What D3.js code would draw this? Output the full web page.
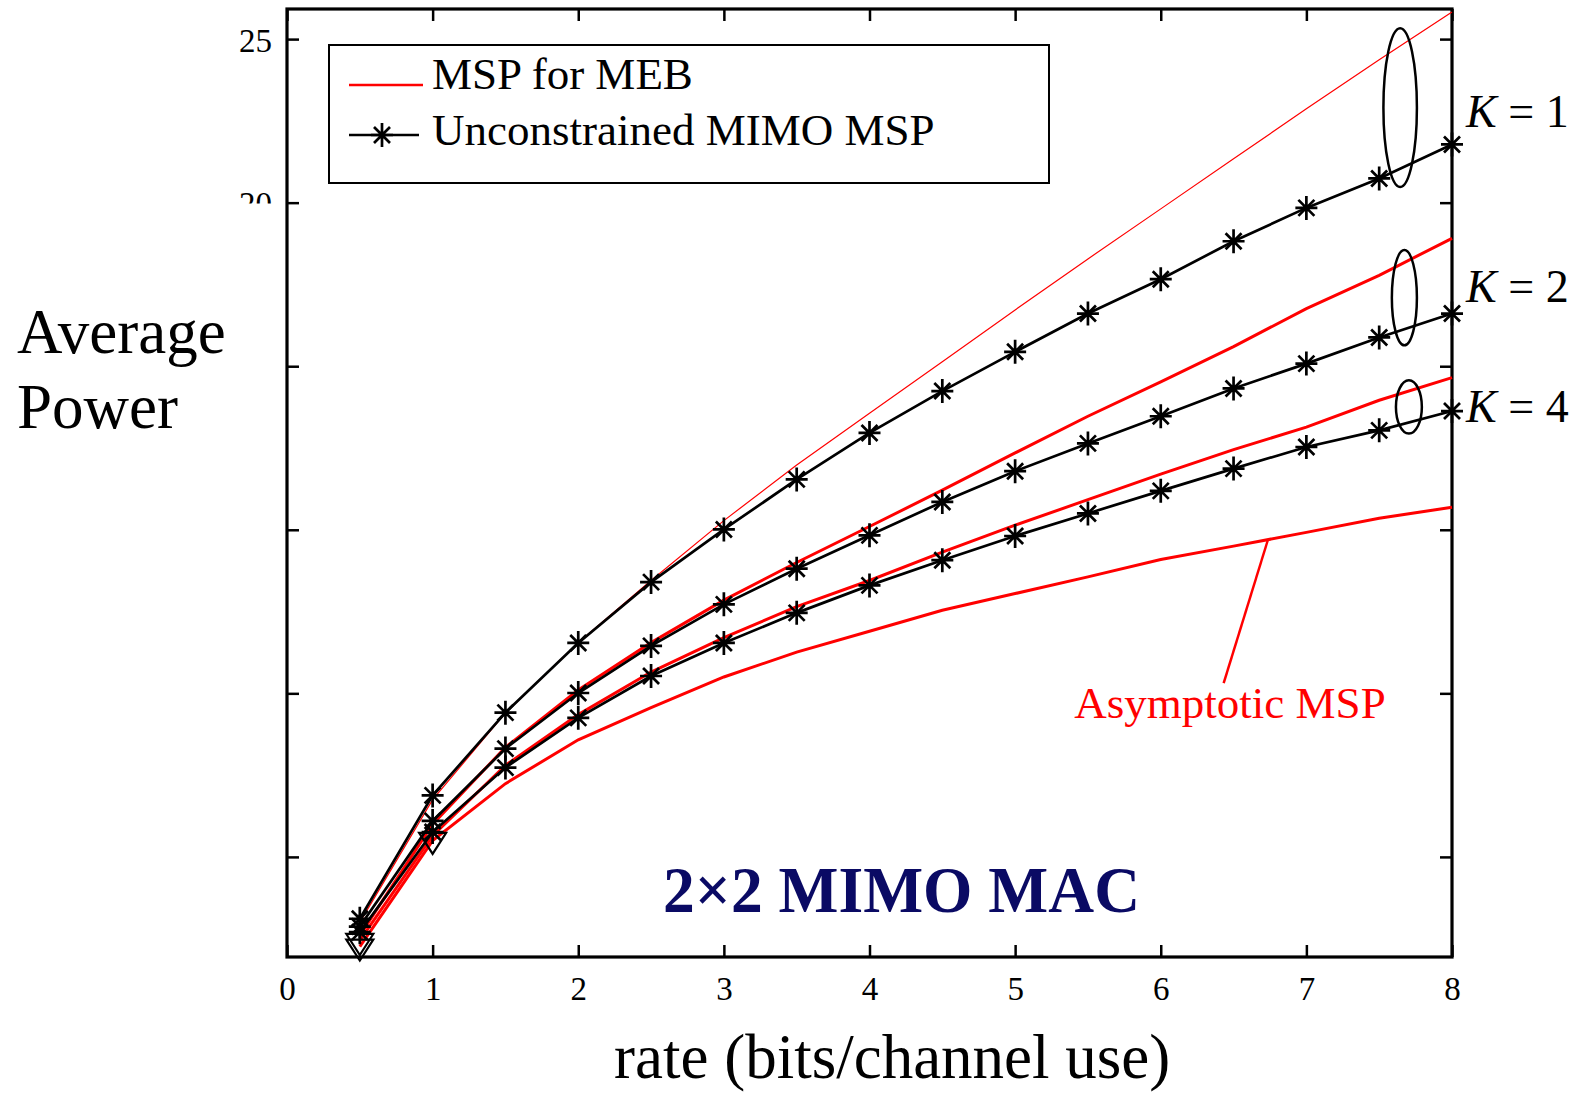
<!DOCTYPE html>
<html><head><meta charset="utf-8">
<script src="https://cdn.jsdelivr.net/npm/d3@7"></script>
<style>
html,body{margin:0;padding:0;background:#fff;}
svg{display:block;}
text{font-family:"Liberation Serif","Times New Roman",Times,serif;}
</style></head>
<body>
<svg id="chart" width="1575" height="1094"></svg>
<script>
// ---------- data ----------
const rates = [0.5,1,1.5,2,2.5,3,3.5,4,4.5,5,5.5,6,6.5,7,7.5,8];
const unconstrainedK1 = [-1.89,1.88,4.41,6.54,8.40,10.01,11.54,12.96,14.24,15.44,16.61,17.66,18.82,19.84,20.74,21.78];
const unconstrainedK2 = [-2.13,1.10,3.31,5.01,6.45,7.72,8.81,9.83,10.85,11.79,12.64,13.47,14.32,15.08,15.88,16.61];
const unconstrainedK4 = [-2.30,0.76,2.73,4.25,5.53,6.54,7.46,8.30,9.07,9.81,10.50,11.19,11.87,12.53,13.04,13.63];
const mebK1 = [-2.00,1.75,4.40,6.55,8.45,10.28,11.98,13.56,15.14,16.72,18.28,19.81,21.34,22.87,24.37,25.83];
const mebK2 = [-2.40,1.00,3.35,5.10,6.55,7.85,9.00,10.10,11.21,12.35,13.47,14.52,15.60,16.76,17.78,18.91];
const mebK4 = [-2.55,0.65,2.80,4.35,5.65,6.70,7.65,8.45,9.32,10.14,10.92,11.70,12.45,13.14,13.96,14.65];
const asymptoticMSP = [-2.74,0.50,2.24,3.58,4.56,5.50,6.26,6.90,7.54,8.05,8.56,9.09,9.50,9.92,10.35,10.69];
const triangleRates = [0.5,0.5,1];
const triangleValues = [-2.57,-2.74,0.52];
const xTicks = [0,1,2,3,4,5,6,7,8];
const yTicks = [0,5,10,15,20,25];
const yTickLabels = ["","","","","20","25"];
const groupLabels = ["1","2","4"];
const groupEllipseRate = [7.644,7.673,7.704];
const groupEllipseTop = [25.33,18.55,14.57];
const groupEllipseBottom = [20.48,15.64,12.94];
const groupEllipseHalfRate = [0.115,0.086,0.089];
const groupLabelValue = [22.8,17.45,13.8];
const legendLabels = ["MSP for MEB","Unconstrained MIMO MSP"];
const titleText = "2\u00d72 MIMO MAC";
const xLabel = "rate (bits/channel use)";
const yLabelLines = ["Average","Power"];
const asymLabel = "Asymptotic MSP";
const asymPointer = {from:[6.735,9.68], to:[6.432,5.31]};

// ---------- layout ----------
const svg = d3.select("#chart");
const L = 287, R = 1452, T = 9, B = 957;
const x = d3.scaleLinear().domain([0,8]).range([L,R]);
const y = d3.scaleLinear().domain([-3.06,25.92]).range([B,T]);
const RED = "#ff0000", BLACK = "#000", NAVY = "#0a0a64";

// ---------- axes (ticks inward) ----------
const tickLen = 12;
const gB = svg.append("g").attr("transform",`translate(0,${B})`)
  .call(d3.axisBottom(x).tickValues(xTicks).tickSizeInner(-tickLen).tickSizeOuter(0).tickFormat(d3.format("d")));
gB.selectAll("text").attr("y",20).attr("dy","0.71em").style("font-size","33px").attr("fill","#000");
const gT = svg.append("g").attr("transform",`translate(0,${T})`)
  .call(d3.axisTop(x).tickValues(xTicks).tickSizeInner(-tickLen).tickSizeOuter(0).tickFormat(""));
const gL = svg.append("g").attr("transform",`translate(${L},0)`)
  .call(d3.axisLeft(y).tickValues(yTicks).tickSizeInner(-tickLen).tickSizeOuter(0).tickFormat(""));
const gR = svg.append("g").attr("transform",`translate(${R},0)`)
  .call(d3.axisRight(y).tickValues(yTicks).tickSizeInner(-tickLen).tickSizeOuter(0).tickFormat(""));
[gB,gT,gL,gR].forEach(g=>{
  g.select(".domain").remove();
  g.selectAll(".tick line").attr("stroke","#000").attr("stroke-width",2.5);
});
// y tick labels (the lower part of the label column is masked, as in the original figure)
svg.append("clipPath").attr("id","ylabclip").append("rect")
  .attr("x",0).attr("y",0).attr("width",L).attr("height",203.5);
svg.append("g").attr("clip-path","url(#ylabclip)")
  .selectAll("text").data(yTicks).enter().append("text")
  .attr("x",L-15).attr("y",d=>y(d)).attr("dy","0.38em").attr("text-anchor","end")
  .style("font-size","33px").attr("fill","#000").text((d,i)=>yTickLabels[i]);
svg.append("rect").attr("x",L).attr("y",T).attr("width",R-L).attr("height",B-T)
  .attr("fill","none").attr("stroke","#000").attr("stroke-width",3.2);

// ---------- lines ----------
const line = d3.line().x(d=>x(d[0])).y(d=>y(d[1]));
const zip = vals => rates.map((r,i)=>[r,vals[i]]);
const plot = svg.append("g");
plot.append("path").datum(zip(asymptoticMSP)).attr("d",line).attr("fill","none").attr("stroke",RED).attr("stroke-width",3);
plot.append("path").datum(zip(mebK4)).attr("d",line).attr("fill","none").attr("stroke",RED).attr("stroke-width",3);
plot.append("path").datum(zip(mebK2)).attr("d",line).attr("fill","none").attr("stroke",RED).attr("stroke-width",3);
plot.append("path").datum(zip(mebK1)).attr("d",line).attr("fill","none").attr("stroke",RED).attr("stroke-width",1.2);

const starPath = "M0,-12V12M-11,0H11M-8,-8L8,8M-8,8L8,-8";
[unconstrainedK1,unconstrainedK2,unconstrainedK4].forEach(vals=>{
  const data = zip(vals);
  plot.append("path").datum(data).attr("d",line).attr("fill","none").attr("stroke",BLACK).attr("stroke-width",2.7);
  plot.selectAll(null).data(data).enter().append("path")
    .attr("d",starPath).attr("transform",d=>`translate(${x(d[0])},${y(d[1])})`)
    .attr("fill","none").attr("stroke",BLACK).attr("stroke-width",2.7);
});
plot.selectAll(null).data(triangleRates.map((r,i)=>[r,triangleValues[i]])).enter().append("path")
  .attr("d","M-13.5,-7L13.5,-7L0,14Z").attr("transform",d=>`translate(${x(d[0])},${y(d[1])})`)
  .attr("fill","none").attr("stroke",BLACK).attr("stroke-width",2.2);

// ---------- group ellipses & labels ----------
groupLabels.forEach((k,i)=>{
  const cx = x(groupEllipseRate[i]);
  const yt = y(groupEllipseTop[i]), yb = y(groupEllipseBottom[i]);
  svg.append("ellipse").attr("cx",cx).attr("cy",(yt+yb)/2)
    .attr("rx",x(groupEllipseRate[i]+groupEllipseHalfRate[i])-cx).attr("ry",(yb-yt)/2)
    .attr("fill","none").attr("stroke",BLACK).attr("stroke-width",2.5);
  const t = svg.append("text").attr("x",1466).attr("y",y(groupLabelValue[i])).attr("dy","0.35em")
    .style("font-size","46px").attr("fill","#000");
  t.append("tspan").style("font-style","italic").text("K");
  t.append("tspan").text(" = "+k);
});

// ---------- asymptotic annotation ----------
svg.append("line").attr("x1",x(asymPointer.from[0])).attr("y1",y(asymPointer.from[1]))
  .attr("x2",x(asymPointer.to[0])).attr("y2",y(asymPointer.to[1]))
  .attr("stroke",RED).attr("stroke-width",2.5);
svg.append("text").attr("x",1230).attr("y",718).attr("text-anchor","middle")
  .style("font-size","45px").attr("fill",RED).text(asymLabel);

// ---------- title ----------
svg.append("text").attr("x",663).attr("y",911.5).style("font-size","66px").style("font-weight","bold")
  .attr("fill",NAVY).attr("textLength",477).attr("lengthAdjust","spacingAndGlyphs").text(titleText);

// ---------- axis labels ----------
svg.append("text").attr("x",614).attr("y",1078).style("font-size","63px").attr("fill","#000").text(xLabel);
yLabelLines.forEach((s,i)=>{
  svg.append("text").attr("x",17).attr("y",[353,428][i]).style("font-size","63px").attr("fill","#000").text(s);
});

// ---------- legend ----------
const lg = svg.append("g");
lg.append("rect").attr("x",329).attr("y",45).attr("width",720).attr("height",138)
  .attr("fill","#fff").attr("stroke","#000").attr("stroke-width",2);
lg.append("line").attr("x1",349).attr("x2",423).attr("y1",85).attr("y2",85).attr("stroke",RED).attr("stroke-width",2.5);
lg.append("line").attr("x1",349).attr("x2",419).attr("y1",135).attr("y2",135).attr("stroke",BLACK).attr("stroke-width",2.7);
lg.append("path").attr("d",starPath).attr("transform","translate(382,135)").attr("fill","none").attr("stroke",BLACK).attr("stroke-width",2.7);
lg.selectAll(null).data(legendLabels).enter().append("text")
  .attr("x",432).attr("y",(d,i)=>[89,145][i]).style("font-size","45px").attr("fill","#000").text(d=>d);
</script>
</body></html>
